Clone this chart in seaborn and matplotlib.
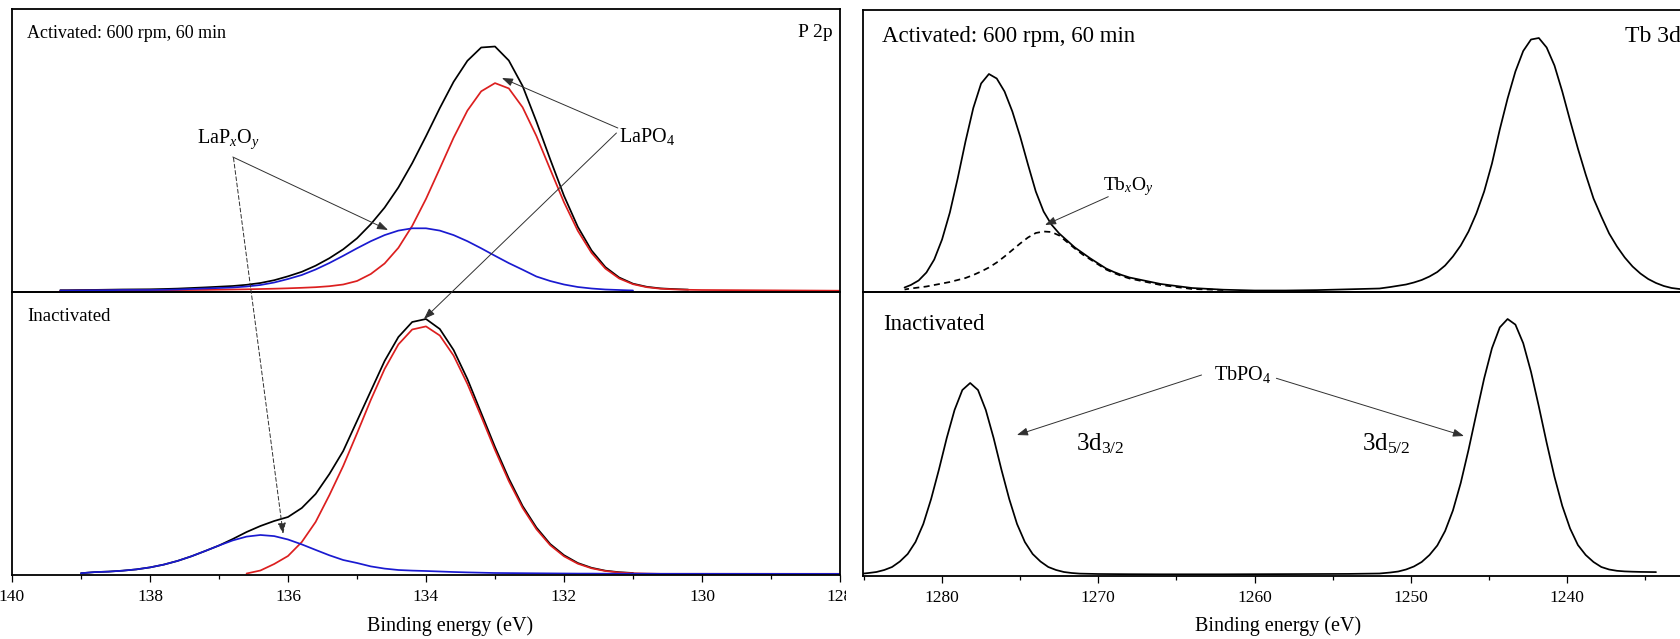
import numpy as np
import matplotlib
matplotlib.use("Agg")
import matplotlib.pyplot as plt
from matplotlib.patches import Rectangle
import seaborn as sns

nan = np.nan

# ------------------- P 2p data -------------------
be_p = [139.3, 139.2, 139.0, 138.8, 138.6, 138.4, 138.2, 138.0, 137.8, 137.6,
        137.4, 137.2, 137.0, 136.8, 136.6, 136.4, 136.2, 136.0, 135.8, 135.6,
        135.4, 135.2, 135.0, 134.8, 134.6, 134.4, 134.2, 134.0, 133.8, 133.6,
        133.4, 133.2, 133.0, 132.8, 132.6, 132.4, 132.2, 132.0, 131.8, 131.6,
        131.4, 131.2, 131.0, 130.8, 130.6, 130.4, 130.2, 130.0, 128.0]

# activated sample
p_act_total = [0.8, 0.8, 1.0, 1.1, 1.3, 1.5, 1.6, 1.7, 2.0, 2.4,
               3.0, 3.6, 4.3, 5.0, 6.2, 8.0, 10.8, 14.7, 19.2, 25.3,
               32.8, 41.7, 52.7, 66.8, 83.4, 103.6, 127.8, 154.8, 182.9, 209.2,
               230.2, 243.5, 244.5, 230.5, 205, 169.5, 131.7, 95.2, 64.2, 40.5,
               23.9, 13.5, 7.3, 4.2, 2.6, 1.9, 1.4, nan, nan]
p_act_lapo4 = [0.3, 0.3, 0.4, 0.4, 0.5, 0.5, 0.6, 0.7, 0.8, 0.9,
               1.0, 1.1, 1.3, 1.5, 1.7, 2.0, 2.3, 2.7, 3.2, 3.8,
               4.8, 6.5, 10, 17, 27.5, 43.2, 65.1, 92.1, 122.5, 153.3,
               180.4, 199.7, 207.9, 202.6, 183.7, 155, 121.7, 88.7, 60.2, 38,
               22.4, 12.5, 6.8, 3.8, 2.3, 1.6, 1.2, 1.0, 0.3]
p_act_lapxoy = [0.5, 0.5, 0.6, 0.7, 0.8, 1.0, 1.0, 1.0, 1.2, 1.5,
                2.0, 2.5, 3.0, 3.5, 4.5, 6.0, 8.5, 12, 16, 21.5,
                28, 35.2, 42.7, 49.8, 55.9, 60.4, 62.7, 62.7, 60.4, 55.9,
                49.8, 42.7, 35.2, 27.9, 21.3, 14.5, 10, 6.5, 4, 2.5,
                1.5, 1.0, 0.5, nan, nan, nan, nan, nan, nan]

# inactivated sample
p_ina_total = [nan, nan, 0.8, 1.9, 2.4, 3.3, 4.6, 6.6, 9.4, 13.1,
               17.7, 23.0, 28.5, 35, 42, 48, 53, 57, 66, 80,
               100, 123, 153, 183, 213, 237, 252, 255, 245, 224,
               195, 161, 127, 95.5, 68, 46.5, 30, 18.8, 11, 6.2,
               3.3, 1.8, 1.0, nan, nan, nan, nan, nan, nan]
p_ina_lapo4 = [nan, nan, nan, nan, nan, nan, nan, nan, nan, nan,
               nan, nan, nan, nan, 0.5, 3.5, 10, 18, 32, 52,
               78.9, 108, 140.6, 174.1, 205, 229.6, 244.5, 247.6, 238.5, 218.4,
               190.1, 157.5, 124, 92.9, 66.1, 44.8, 28.8, 17.7, 10.3, 5.7,
               3.0, 1.5, 0.8, 0.4, 0.2, 0.2, 0.2, 0.2, 0.2]
p_ina_lapxoy = [nan, nan, 0.8, 1.9, 2.4, 3.3, 4.6, 6.6, 9.4, 13.1,
                17.7, 23.0, 28.5, 33.6, 37.4, 39.0, 37.9, 34.5, 29.6, 24.1,
                18.7, 14.0, 11.0, 7.6, 5.4, 4.0, 3.4, 3.0, 2.5, 2.0,
                1.6, 1.3, 1.0, 0.9, 0.8, 0.7, 0.6, 0.5, 0.4, 0.4,
                0.3, 0.3, 0.3, 0.3, 0.2, 0.2, 0.2, 0.2, 0.1]

# ------------------- Tb 3d data -------------------
be_tb_act = [1282.4, 1282.0, 1281.5, 1281.0, 1280.5, 1280.0, 1279.5, 1279.0, 1278.5, 1278.0,
             1277.5, 1277.0, 1276.5, 1276.0, 1275.5, 1275.0, 1274.5, 1274.0, 1273.5, 1273.0,
             1272.5, 1272.0, 1271.5, 1271.0, 1270.5, 1270.0, 1269.5, 1269.0, 1268.5, 1268.0,
             1266.0, 1264.0, 1262.0, 1260.0, 1258.0, 1256.0, 1254.0, 1252.0, 1251.3,
             1250.3, 1249.8, 1249.3, 1248.8, 1248.3, 1247.8, 1247.3, 1246.8, 1246.3, 1245.8,
             1245.3, 1244.8, 1244.3, 1243.8, 1243.3, 1242.8, 1242.3, 1241.8, 1241.3, 1240.8,
             1240.3, 1239.8, 1239.3, 1238.8, 1238.3, 1237.8, 1237.3, 1236.8, 1236.3, 1235.8,
             1235.3, 1234.8, 1234.3, 1233.8, 1233.3, 1232.8, 1232.3]
tb_act_total = [4, 6.5, 11, 19, 32, 52, 79, 113, 150, 183.5,
                208, 217.5, 213, 200, 180, 155, 127, 100, 80, 67,
                58, 51, 44, 38.5, 33, 28, 23, 19.5, 16.5, 14,
                7.5, 3.5, 1.8, 1.0, 1.0, 1.4, 2.2, 3.0, 4.5,
                7, 9, 11.5, 15, 19.5, 26, 35, 46, 60, 78,
                100, 128, 162, 193, 220, 240.5, 252, 253.5, 244, 226,
                200, 171, 143, 117, 93, 75, 58, 45, 34, 25,
                18, 12.5, 8.5, 5.5, 3.5, 2.5, 1.8]
tb_act_oxide = [2, 3, 4, 5, 6.5, 8, 9.5, 11.5, 13.5, 16.5,
                20, 24, 29, 35, 41.5, 48, 54, 58.5, 60, 59.5,
                56, 49.5, 43, 37, 32, 27, 22, 18.5, 15.5, 13,
                6.5, 2.5, 1.5, nan, nan, nan, nan, nan, nan,
                nan, nan, nan, nan, nan, nan, nan, nan, nan, nan,
                nan, nan, nan, nan, nan, nan, nan, nan, nan, nan,
                nan, nan, nan, nan, nan, nan, nan, nan, nan, nan,
                nan, nan, nan, nan, nan, nan, nan]

be_tb_ina = [1285.2, 1284.7, 1284.2, 1283.7, 1283.2, 1282.7, 1282.2, 1281.7, 1281.2, 1280.7,
             1280.2, 1279.7, 1279.2, 1278.7, 1278.2, 1277.7, 1277.2, 1276.7, 1276.2, 1275.7,
             1275.2, 1274.7, 1274.2, 1273.7, 1273.2, 1272.7, 1272.2, 1271.7, 1271.2,
             1270.0, 1268.0, 1266.0, 1264.0, 1262.0, 1260.0, 1258.0, 1256.0, 1254.0, 1252.0,
             1251.3, 1250.8, 1250.3, 1249.8, 1249.3, 1248.8, 1248.3, 1247.8, 1247.3, 1246.8,
             1246.3, 1245.8, 1245.3, 1244.8, 1244.3, 1243.8, 1243.3, 1242.8, 1242.3, 1241.8,
             1241.3, 1240.8, 1240.3, 1239.8, 1239.3, 1238.8, 1238.3, 1237.8, 1237.3, 1236.8,
             1236.3, 1235.8, 1235.3, 1234.8, 1234.3]
tb_ina_total = [1.2, 2, 3, 5, 8, 13.5, 21, 33, 51, 76,
                105.4, 137, 165, 185, 192, 185, 165, 137, 105.4, 76,
                51, 33, 21, 13.5, 8, 5, 3, 2, 1.4,
                1.0, 0.8, 0.7, 0.7, 0.7, 0.8, 0.9, 1.0, 1.1, 1.5,
                2.5, 3.5, 5.5, 8.5, 13, 20, 29.5, 44, 64.5, 92,
                125.2, 161.2, 196.6, 226.8, 247.6, 256, 250.4, 231.8, 203.1, 168.5,
                132.3, 98.3, 69.1, 46.5, 30, 20, 13, 8, 5.5, 4.2,
                3.6, 3.3, 3.1, 3.0, 2.9]

p_major = [140, 138, 136, 134, 132, 130, 128]
p_minor = [139, 137, 135, 133, 131, 129]
tb_major = [1280, 1270, 1260, 1250, 1240]
tb_minor = [1285, 1275, 1265, 1255, 1245, 1235]

# ------------------- Style -------------------
sns.set_theme(style="white")
plt.rcParams["font.family"] = ["Liberation Serif", "DejaVu Serif"]
plt.rcParams["mathtext.fontset"] = "custom"
plt.rcParams["mathtext.rm"] = "Liberation Serif"
plt.rcParams["mathtext.it"] = "Liberation Serif:italic"
plt.rcParams["text.color"] = "black"
plt.rcParams["lines.solid_joinstyle"] = "round"
plt.rcParams["lines.solid_capstyle"] = "round"

RED = "#dc1f1f"
BLUE = "#1a1ad0"
LW = 1.25
W, H = 1680, 639

fig = plt.figure(figsize=(16.8, 6.39), dpi=100)


def px_axes(x0, y0, x1, y1, z=0):
    ax = fig.add_axes([x0 / W, 1 - y1 / H, (x1 - x0) / W, (y1 - y0) / H], zorder=z)
    ax.patch.set_visible(False)
    for sp in ax.spines.values():
        sp.set_color("black")
        sp.set_linewidth(1.3)
    ax.set_yticks([])
    return ax


ax_pt = px_axes(12, 9, 840, 292)
ax_pb = px_axes(12, 292, 840, 575)
ax_tt = px_axes(863, 10, 1691, 292, z=2)
ax_tb = px_axes(863, 292, 1691, 576, z=2)

# ------------------- Curves -------------------
sns.lineplot(x=be_p, y=p_act_total, ax=ax_pt, color="black", linewidth=LW, estimator=None)
sns.lineplot(x=be_p, y=p_act_lapo4, ax=ax_pt, color=RED, linewidth=LW, estimator=None)
sns.lineplot(x=be_p, y=p_act_lapxoy, ax=ax_pt, color=BLUE, linewidth=LW, estimator=None)

sns.lineplot(x=be_p, y=p_ina_total, ax=ax_pb, color="black", linewidth=LW, estimator=None)
sns.lineplot(x=be_p, y=p_ina_lapo4, ax=ax_pb, color=RED, linewidth=LW, estimator=None)
sns.lineplot(x=be_p, y=p_ina_lapxoy, ax=ax_pb, color=BLUE, linewidth=LW, estimator=None)

sns.lineplot(x=be_tb_act, y=tb_act_total, ax=ax_tt, color="black", linewidth=LW, estimator=None)
sns.lineplot(x=be_tb_act, y=tb_act_oxide, ax=ax_tt, color="black", linewidth=LW,
             linestyle=(0, (3.5, 2.5)), estimator=None)
sns.lineplot(x=be_tb_ina, y=tb_ina_total, ax=ax_tb, color="black", linewidth=LW, estimator=None)

# ------------------- Axes -------------------
for ax in (ax_pt, ax_pb):
    ax.set_xlim(140, 128)
    ax.set_ylim(-1, 282)
ax_tt.set_xlim(1285.06, 1232.06)
ax_tt.set_ylim(-0.5, 281.5)
ax_tb.set_xlim(1285.06, 1232.06)
ax_tb.set_ylim(-1, 283)

for ax in (ax_pt, ax_tt):
    ax.tick_params(axis="x", which="both", bottom=False, labelbottom=False)
    ax.set_xlabel("")

ax_pb.set_xticks(p_major)
ax_pb.set_xticks(p_minor, minor=True)
ax_tb.set_xticks(tb_major)
ax_tb.set_xticks(tb_minor, minor=True)
for ax in (ax_pb, ax_tb):
    ax.tick_params(axis="x", which="major", bottom=True, direction="out", length=5,
                   width=0.9, color="black", pad=5, labelsize=12.5, labelcolor="black")
    ax.tick_params(axis="x", which="minor", bottom=True, direction="out", length=3,
                   width=0.9, color="black")
    ax.set_xlabel("Binding energy (eV)", fontsize=14.5, color="black")
ax_pb.xaxis.set_label_coords(0.529, -0.145)
ax_tb.xaxis.set_label_coords(0.501, -0.141)

# ------------------- Labels -------------------
ax_pt.text(0.018, 0.8975, "Activated: 600 rpm, 60 min", transform=ax_pt.transAxes,
           fontsize=13, va="baseline", ha="left")
ax_pt.text(0.9915, 0.901, "P 2p", transform=ax_pt.transAxes,
           fontsize=14, va="baseline", ha="right")
ax_pb.text(0.018, 0.899, "Inactivated", transform=ax_pb.transAxes,
           fontsize=13.5, va="baseline", ha="left")

ax_tt.text(0.023, 0.8848, "Activated: 600 rpm, 60 min", transform=ax_tt.transAxes,
           fontsize=16.5, va="baseline", ha="left")
ax_tt.text(0.9203, 0.8865, "Tb 3d", transform=ax_tt.transAxes,
           fontsize=17, va="baseline", ha="left")
ax_tb.text(0.0238, 0.866, "Inactivated", transform=ax_tb.transAxes,
           fontsize=16.5, va="baseline", ha="left")

arrow = dict(arrowstyle="-|>,head_length=0.55,head_width=0.2", color="#303030",
             lw=0.7, shrinkA=0, shrinkB=0, mutation_scale=12)
arrow_dash = dict(arrow, linestyle=(0, (4, 2.5)))

# P 2p annotations
ax_pt.text(137.32, 147.7, "LaP$_x$O$_y$", fontsize=14.5, va="baseline", ha="left")
ax_pt.annotate("", xy=(134.55, 61), xytext=(136.80, 134), arrowprops=arrow)
ax_pb.annotate("", xy=(136.07, 40), xytext=(136.79, 133),
               textcoords=ax_pt.transData, arrowprops=arrow_dash)

ax_pt.text(131.21, 149.3, "LaPO$_4$", fontsize=14.5, va="baseline", ha="left")
ax_pt.annotate("", xy=(132.9, 213), xytext=(131.22, 163), arrowprops=arrow)
ax_pb.annotate("", xy=(134.03, 255), xytext=(131.24, 158),
               textcoords=ax_pt.transData, arrowprops=arrow)

# Tb 3d annotations
ax_tt.text(1269.68, 100.8, "Tb$_x$O$_y$", fontsize=14, va="baseline", ha="left")
ax_tt.annotate("", xy=(1273.41, 66.5), xytext=(1269.36, 94.8), arrowprops=arrow)

ax_tb.text(1262.6, 195, "TbPO$_4$", fontsize=14.5, va="baseline", ha="left")
ax_tb.annotate("", xy=(1275.21, 140), xytext=(1263.39, 200), arrowprops=arrow)
ax_tb.annotate("", xy=(1246.59, 139), xytext=(1258.6, 196.7), arrowprops=arrow)
ax_tb.text(1271.44, 125, "3d$_{3/2}$", fontsize=18, va="baseline", ha="left")
ax_tb.text(1253.11, 125, "3d$_{5/2}$", fontsize=18, va="baseline", ha="left")

# the two panels were cut apart in the original: hide the overhang of "128"
fig.add_artist(Rectangle((846 / W, 0), 15 / W, 1, transform=fig.transFigure,
                         facecolor="white", edgecolor="none", zorder=1))

fig.savefig("out.png", dpi=100)
